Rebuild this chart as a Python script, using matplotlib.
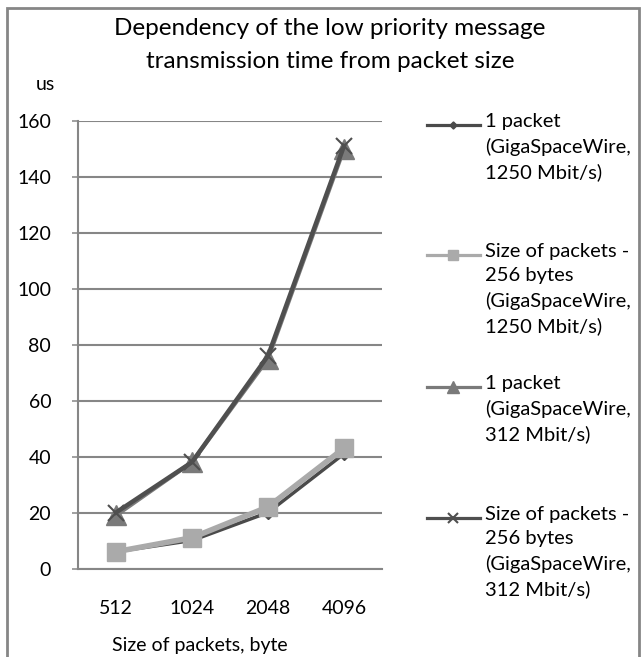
import matplotlib
matplotlib.use("Agg")
import matplotlib.pyplot as plt
from matplotlib.lines import Line2D
from matplotlib.patches import Rectangle

plt.rcParams['font.family'] = ['Lato', 'DejaVu Sans']

# data
sizes = ["512", "1024", "2048", "4096"]
one_pkt_1250 = [6, 10, 20, 41]
pkt256_1250 = [6, 11, 22, 43]
one_pkt_312 = [19, 38, 75, 150]
pkt256_312 = [20, 38, 76, 151]

labels = [
    "1 packet\n(GigaSpaceWire,\n1250 Mbit/s)",
    "Size of packets -\n256 bytes\n(GigaSpaceWire,\n1250 Mbit/s)",
    "1 packet\n(GigaSpaceWire,\n312 Mbit/s)",
    "Size of packets -\n256 bytes\n(GigaSpaceWire,\n312 Mbit/s)",
]
yticks = [0, 20, 40, 60, 80, 100, 120, 140, 160]

W, H = 641, 657
fig = plt.figure(figsize=(W / 100, H / 100), dpi=100)
ax = fig.add_axes([78 / W, 1 - 568.5 / H, 304 / W, 447.8 / H])

grid_c = "#868686"
styles = [
    dict(color="#4a4a4a", marker="D", ms=6, lw=2.5),
    dict(color="#aaaaaa", marker="s", ms=13, lw=4),
    dict(color="#7a7a7a", marker="^", ms=15, lw=3),
    dict(color="#4f4f4f", marker="x", ms=12, mew=1.5, lw=3.2),
]
series = [one_pkt_1250, pkt256_1250, one_pkt_312, pkt256_312]

for vals, st in zip(series, styles):
    ax.plot(sizes, vals, color=st["color"], lw=st["lw"], marker=st["marker"],
            ms=st["ms"], mew=st.get("mew", 1), mec=st["color"], mfc=st["color"],
            solid_joinstyle="round", zorder=3)

ax.set_xlim(-0.5, 3.5)
ax.set_ylim(0, 160)
ax.set_yticks(yticks)
ax.yaxis.grid(True, color=grid_c, lw=1.5)
ax.set_axisbelow(True)
for s in ["top", "right"]:
    ax.spines[s].set_visible(False)
for s in ["left", "bottom"]:
    ax.spines[s].set_color(grid_c)
    ax.spines[s].set_linewidth(1.5)
ax.tick_params(axis="y", length=4.3, width=1.1, color=grid_c, pad=15, labelsize=14)
ax.tick_params(axis="x", length=0, pad=23, labelsize=14)

ax.set_xlabel("Size of packets, byte", fontsize=14)
ax.xaxis.set_label_coords((200 - 78) / 304, -(645 - 568.5) / 447.8)
ax.xaxis.label.set_va("center")

fig.text(45 / W, 1 - 85 / H, "us", ha="center", va="center", fontsize=14)
fig.text(330 / W, 1 - 45 / H,
         "Dependency of the low priority message\ntransmission time from packet size",
         ha="center", va="center", fontsize=17.5, linespacing=1.75)

# legend drawn by hand: marker aligned with first text line, like Excel
first_lines = [125, 255, 387, 518]
for st, lab, yl in zip(styles, labels, first_lines):
    yf = 1 - yl / H
    fig.add_artist(Line2D([427 / W, 480 / W], [yf, yf], transform=fig.transFigure,
                          color=st["color"], lw=2.3))
    fig.add_artist(Line2D([453.5 / W], [yf], transform=fig.transFigure,
                          color=st["color"], marker=st["marker"],
                          ms=st["ms"] * 0.6, mew=st.get("mew", 1), lw=0))
    fig.text(485 / W, 1 - (yl - 12) / H, lab, ha="left", va="top", fontsize=14.5,
             linespacing=1.5, transform=fig.transFigure)

# outer chart frame
fig.add_artist(Rectangle((7 / W, -0.05), 632 / W, 1.05 - 8 / H, transform=fig.transFigure,
                         fill=False, ec=grid_c, lw=2, clip_on=False))

fig.savefig("out.png", dpi=100)
